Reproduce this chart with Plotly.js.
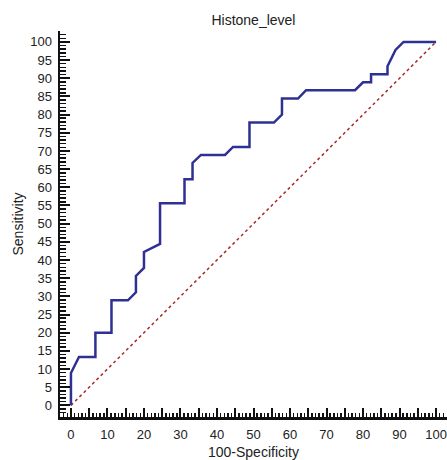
<!DOCTYPE html>
<html>
<head>
<meta charset="utf-8">
<script src="https://cdn.plot.ly/plotly-3.0.1.min.js"></script>
<style>html,body{margin:0;padding:0;background:#fff;}#chart{width:447px;height:460px;}</style>
</head>
<body>
<div id="chart"></div>
<script>
// ROC curve for Histone_level
var specComplement = [0, 0, 2.2, 6.7, 6.7, 11.1, 11.1, 15.6, 17.8, 17.8, 20, 20, 24.4, 24.4, 31.1, 31.1, 33.3, 33.3, 35.6, 42.2, 44.4, 48.9, 48.9, 55.6, 57.8, 57.8, 62.2, 64.4, 77.8, 80, 82.2, 82.2, 86.7, 86.7, 88.9, 91.1, 100];
var sensitivity   = [0, 8.9, 13.3, 13.3, 20, 20, 28.9, 28.9, 31.1, 35.6, 37.8, 42.2, 44.4, 55.6, 55.6, 62.2, 62.2, 66.7, 68.9, 68.9, 71.1, 71.1, 77.8, 77.8, 80, 84.4, 84.4, 86.7, 86.7, 88.9, 88.9, 91.1, 91.1, 93.3, 97.8, 100, 100];
var refX = [0, 100];
var refY = [0, 100];
var xTickVals = [0,5,10,15,20,25,30,35,40,45,50,55,60,65,70,75,80,85,90,95,100];
var xTickText = ['0','','10','','20','','30','','40','','50','','60','','70','','80','','90','','100'];
var yTickVals = [0,5,10,15,20,25,30,35,40,45,50,55,60,65,70,75,80,85,90,95,100];

var traces = [
  {x: refX, y: refY, mode: 'lines', line: {color: '#A52A2A', width: 1.5, dash: 'dot'}, hoverinfo: 'skip'},
  {x: specComplement, y: sensitivity, mode: 'lines', line: {color: '#2E3192', width: 2.5}, hoverinfo: 'skip'}
];

var axisFont = {family: 'Liberation Sans, Arial, sans-serif', size: 13, color: '#222'};
var layout = {
  width: 447, height: 460,
  margin: {l: 60, r: 0, t: 31, b: 43, pad: 0},
  paper_bgcolor: '#fff', plot_bgcolor: '#fff',
  showlegend: false,
  font: axisFont,
  title: {text: 'Histone_level', font: {family: 'Liberation Sans, Arial, sans-serif', size: 14, color: '#222'},
          x: 0.567, xanchor: 'center', y: 0.957, yanchor: 'middle'},
  xaxis: {
    range: [-3, 103], showgrid: false, zeroline: false,
    showline: true, linecolor: '#111', linewidth: 2.5,
    ticks: 'inside', ticklen: 9, tickwidth: 2, tickcolor: '#111',
    tickmode: 'array', tickvals: xTickVals, ticktext: xTickText,
    tickfont: axisFont, ticklabelstandoff: 4,
    minor: {dtick: 1, ticks: 'inside', ticklen: 4, tickwidth: 1.5, tickcolor: '#111', showgrid: false},
    title: {text: '100-Specificity', font: {family: 'Liberation Sans, Arial, sans-serif', size: 14, color: '#222'}, standoff: 7}
  },
  yaxis: {
    range: [-3.2, 103], showgrid: false, zeroline: false,
    showline: true, linecolor: '#111', linewidth: 2.5,
    ticks: 'inside', ticklen: 10, tickwidth: 2, tickcolor: '#111',
    tickmode: 'array', tickvals: yTickVals,
    tickfont: axisFont, ticklabelstandoff: 3,
    minor: {dtick: 1, ticks: 'inside', ticklen: 6, tickwidth: 1.5, tickcolor: '#111', showgrid: false},
    title: {text: 'Sensitivity', font: {family: 'Liberation Sans, Arial, sans-serif', size: 14, color: '#222'}, standoff: 4}
  }
};
Plotly.newPlot('chart', traces, layout, {staticPlot: true, displayModeBar: false});
</script>
</body>
</html>
